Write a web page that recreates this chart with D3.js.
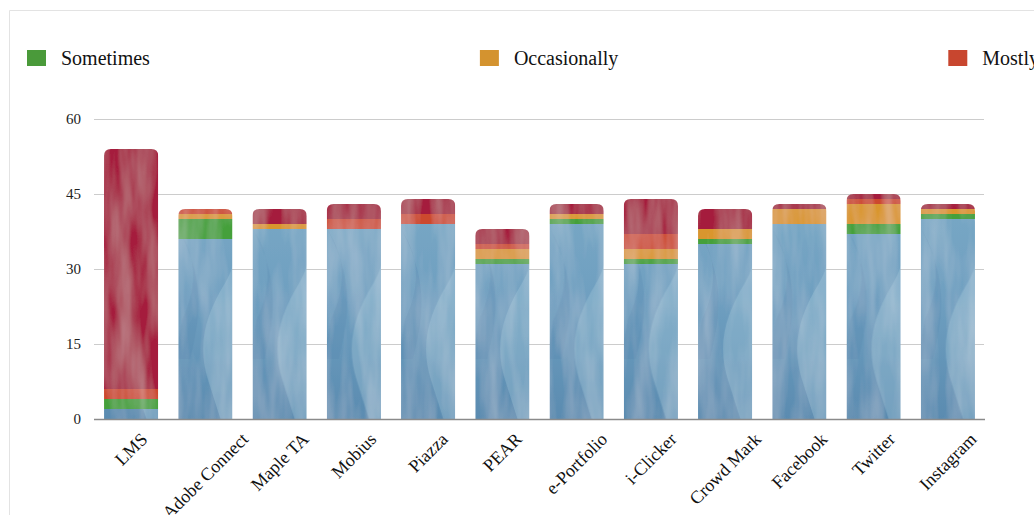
<!DOCTYPE html>
<html>
<head>
<meta charset="utf-8">
<script src="https://cdn.jsdelivr.net/npm/d3@7"></script>
<style>
  html, body { margin: 0; padding: 0; background: #fff; overflow: hidden; }
  svg { display: block; font-family: "Liberation Serif", "Times New Roman", serif; }
</style>
</head>
<body>
<svg id="chart" width="1034" height="515"></svg>
<script>
// ---- data ----
const categories = ["LMS", "Adobe Connect", "Maple TA", "Mobius", "Piazza", "PEAR",
  "e-Portfolio", "i-Clicker", "Crowd Mark", "Facebook", "Twitter", "Instagram"];
const seriesNames = ["Never", "Sometimes", "Occasionally", "Mostly", "Always"];
const never        = [2, 36, 38, 38, 39, 31, 39, 31, 35, 39, 37, 40];
const sometimes    = [2, 4, 0, 0, 0, 1, 1, 1, 1, 0, 2, 1];
const occasionally = [0, 1, 1, 0, 0, 2, 1, 2, 2, 3, 4, 1];
const mostly       = [2, 1, 0, 2, 2, 1, 0, 3, 0, 0, 1, 0];
const always       = [48, 0, 3, 3, 3, 3, 2, 7, 4, 1, 1, 1];
const legendNames  = ["Sometimes", "Occasionally", "Mostly", "Always", "Never"];
const yTicks = [0, 15, 30, 45, 60];

const seriesValues = { Never: never, Sometimes: sometimes, Occasionally: occasionally, Mostly: mostly, Always: always };
const baseColors = { Never: "#6f9fbf", Sometimes: "#45a03a", Occasionally: "#d9962f", Mostly: "#cc4a2f", Always: "#a51a3d" };
const legendColors = { Never: "#6f9fbf", Sometimes: "#4a9a3a", Occasionally: "#d4932f", Mostly: "#c8462f", Always: "#a61a3c" };

const svg = d3.select("#chart");
const W = 1034, H = 515;

// container border
svg.append("path").attr("d", `M9.5,${H} V10.5 H${W}`).attr("fill", "none").attr("stroke", "#e3e3e3").attr("stroke-width", 1);

const defs = svg.append("defs");

// subtle brush texture filter
const f = defs.append("filter").attr("id", "tex").attr("x", 0).attr("y", 0).attr("width", 1).attr("height", 1);
f.append("feTurbulence").attr("type", "fractalNoise").attr("baseFrequency", "0.06 0.01").attr("numOctaves", 3).attr("seed", 7).attr("result", "n");
f.append("feColorMatrix").attr("in", "n").attr("type", "matrix")
  .attr("values", "0 0 0 0 1  0 0 0 0 1  0 0 0 0 1  0.32 0 0 0 -0.1").attr("result", "w");
f.append("feComposite").attr("in", "w").attr("in2", "SourceGraphic").attr("operator", "in").attr("result", "wc");
const fm = f.append("feMerge");
fm.append("feMergeNode").attr("in", "SourceGraphic");
fm.append("feMergeNode").attr("in", "wc");

// blue painted pattern
const bp = defs.append("pattern").attr("id", "bluePat")
  .attr("patternUnits", "userSpaceOnUse").attr("width", 74.25).attr("height", 300).attr("x", 20).attr("y", 119);
const bg = defs.append("linearGradient").attr("id", "blueGrad").attr("x1", 0).attr("y1", 0).attr("x2", 0).attr("y2", 1);
bg.append("stop").attr("offset", 0).attr("stop-color", "#80afc9");
bg.append("stop").attr("offset", 0.6).attr("stop-color", "#6f9fc0");
bg.append("stop").attr("offset", 1).attr("stop-color", "#5a8bb0");
bp.append("rect").attr("width", 74.25).attr("height", 300).attr("fill", "url(#blueGrad)");
bp.append("path")
  .attr("d", "M45,70 C72,100 74,135 56,165 C38,195 28,225 40,262 L52,300 L74.25,300 L74.25,250 C64,222 64,200 72,172 C84,132 72,98 45,70 Z")
  .attr("fill", "#a6c8d8").attr("opacity", 0.35);
bp.append("path")
  .attr("d", "M10,110 C30,140 28,170 14,200 L6,240 L22,240 C30,205 40,165 10,110 Z")
  .attr("fill", "#5584aa").attr("opacity", 0.25);

// scales
const x = d3.scaleBand().domain(categories).range([94, 985]).paddingInner(0.27).paddingOuter(0.135);
const y = d3.scaleLinear().domain([0, 60]).range([419, 119]);

// gridlines
svg.append("g").selectAll("line").data(yTicks.filter(t => t > 0)).join("line")
  .attr("x1", 94).attr("x2", 984).attr("y1", d => y(d) + 0.5).attr("y2", d => y(d) + 0.5)
  .attr("stroke", "#cccccc").attr("stroke-width", 1);

// y axis labels
const yAxis = d3.axisLeft(y).tickValues(yTicks).tickSize(0).tickPadding(13).tickFormat(d3.format("d"));
const yg = svg.append("g").attr("transform", "translate(94,0)").call(yAxis);
yg.select(".domain").remove();
yg.selectAll("text").attr("font-size", 15).attr("fill", "#222").attr("font-family", "Liberation Serif, serif").attr("dy", "0.32em");

// stack
const table = categories.map((c, i) => {
  const o = { cat: c };
  seriesNames.forEach(s => o[s] = seriesValues[s][i]);
  return o;
});
const stacked = d3.stack().keys(seriesNames)(table);

// per-bar clip paths (rounded top)
const r = 7;
categories.forEach((c, i) => {
  const total = seriesNames.reduce((a, s) => a + seriesValues[s][i], 0);
  const x0 = x(c), x1 = x(c) + x.bandwidth(), yt = y(total), yb = y(0);
  defs.append("clipPath").attr("id", "clip" + i).append("path")
    .attr("d", `M${x0},${yb} V${yt + r} Q${x0},${yt} ${x0 + r},${yt} H${x1 - r} Q${x1},${yt} ${x1},${yt + r} V${yb} Z`);
});

const barsG = svg.append("g").attr("filter", "url(#tex)");
categories.forEach((c, i) => {
  const g = barsG.append("g").attr("clip-path", `url(#clip${i})`);
  stacked.forEach(layer => {
    const d = layer[i];
    if (d[1] - d[0] <= 0) return;
    g.append("rect")
      .attr("x", x(c)).attr("width", x.bandwidth())
      .attr("y", y(d[1])).attr("height", y(d[0]) - y(d[1]))
      .attr("fill", layer.key === "Never" ? "url(#bluePat)" : baseColors[layer.key]);
  });
});

// baseline
svg.append("line").attr("x1", 94).attr("x2", 985).attr("y1", 419.5).attr("y2", 419.5)
  .attr("stroke", "#8a8a8a").attr("stroke-width", 1.5);

// x labels: rotated, bounding box centred on the band, top aligned below axis
const xl = svg.append("g");
categories.forEach(c => {
  const g = xl.append("g").attr("transform", `translate(${x(c) + x.bandwidth() / 2},0)`);
  const t = g.append("text").attr("text-anchor", "middle").attr("font-size", 18).attr("fill", "#111")
    .attr("transform", "rotate(-45)").text(c);
  const bb = g.node().getBBox();
  t.attr("transform", `translate(${-(bb.x + bb.width / 2)},${429 - bb.y}) rotate(-45)`);
});

// legend
const lg = svg.append("g");
let lx = 27;
legendNames.forEach(name => {
  const it = lg.append("g").attr("transform", `translate(${lx},50)`);
  it.append("rect").attr("width", 19).attr("height", 16).attr("fill", legendColors[name]);
  const t = it.append("text").attr("x", 34).attr("y", 14.5).attr("font-size", 20).attr("fill", "#111").text(name);
  lx += 34 + t.node().getComputedTextLength() + 330;
});
</script>
</body>
</html>
